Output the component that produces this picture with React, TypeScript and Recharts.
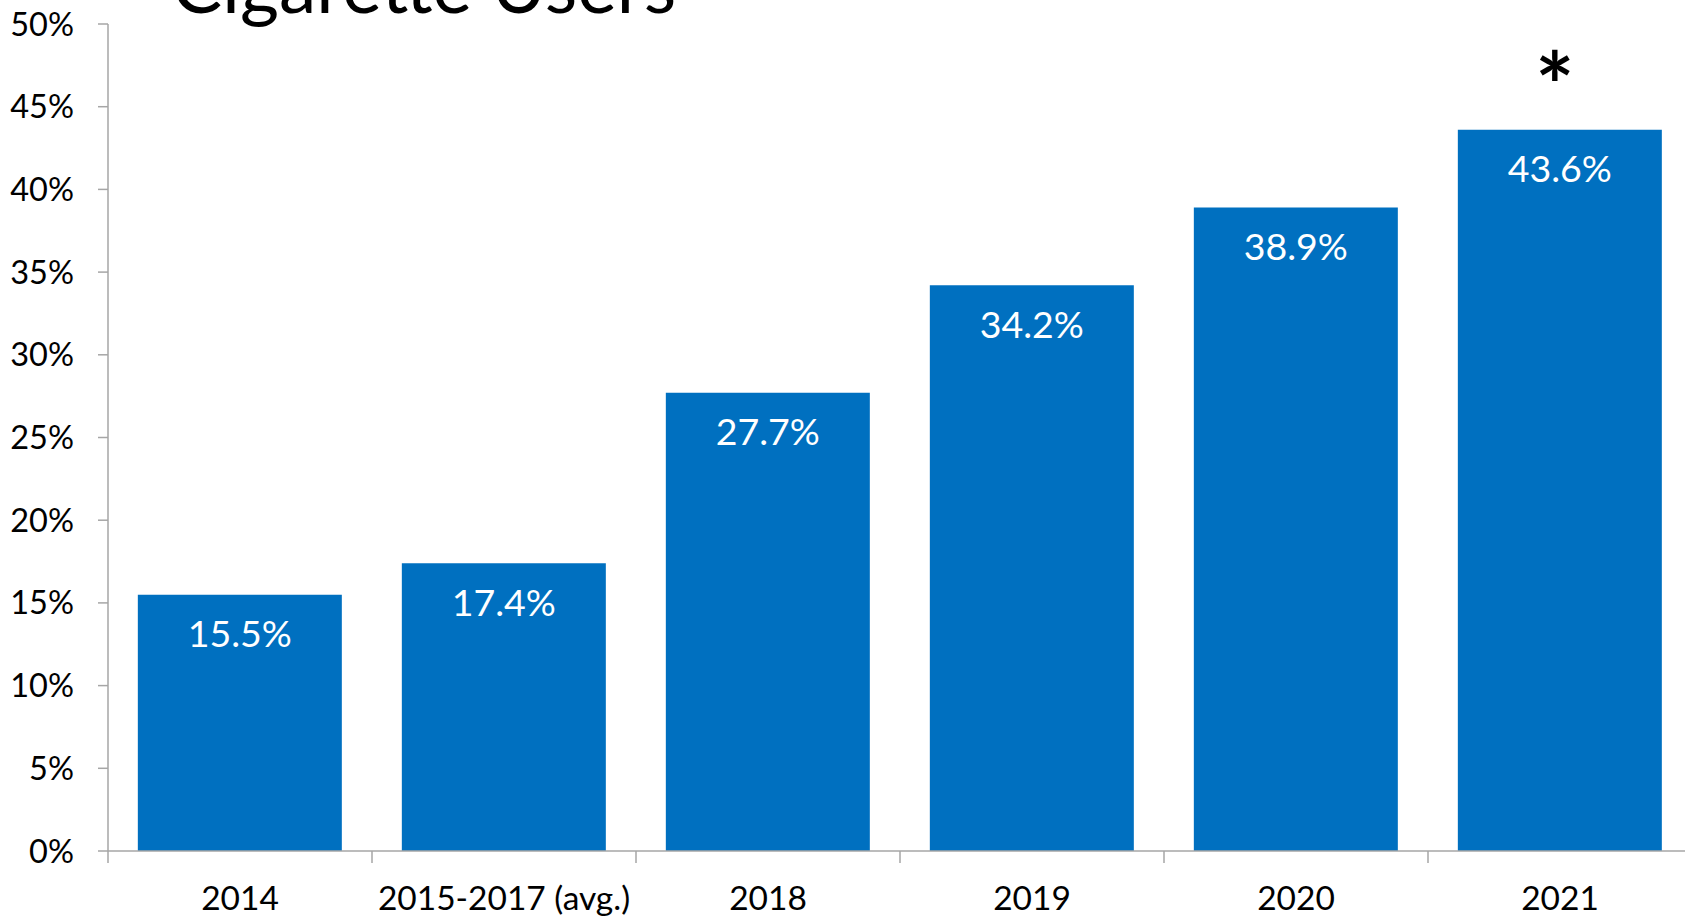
import { Bar, BarChart, LabelList, XAxis, YAxis } from "recharts";

const categories = ["2014", "2015-2017 (avg.)", "2018", "2019", "2020", "2021"];
const users = [15.5, 17.4, 27.7, 34.2, 38.9, 43.6];
const notes = ["", "", "", "", "", "*"];
const yTicks = [0, 5, 10, 15, 20, 25, 30, 35, 40, 45, 50];

const BLUE = "#0070C0";
const AXIS = "#A6A6A6";
const FONT = "Lato, 'Open Sans', sans-serif";

const CHART_W = 1692;
const Y_W = 108;
const HALF_BAND = (CHART_W - Y_W) / categories.length / 2;

const data = categories.map((name, i) => ({
  name,
  users: users[i],
  note: notes[i],
}));

// Excel-style: tick marks sit between categories, labels at the centre
function CategoryTick({ x, y, payload }: any) {
  return (
    <g>
      <line
        x1={x - HALF_BAND}
        x2={x - HALF_BAND}
        y1={y}
        y2={y + 12}
        stroke={AXIS}
        strokeWidth={1.5}
      />
      <text
        x={x}
        y={y + 35}
        dy="0.71em"
        textAnchor="middle"
        fill="#000"
        fontSize={33.5}
        fontFamily={FONT}
      >
        {payload.value}
      </text>
    </g>
  );
}

function Asterisk({ x, y, width, value }: any) {
  if (!value) return null;
  return (
    <text
      x={x + width / 2 - 5}
      y={y - 45}
      textAnchor="middle"
      dominantBaseline="central"
      fill="#000"
      fontSize={92}
      fontWeight="bold"
      fontFamily={FONT}
    >
      {value}
    </text>
  );
}

export default function App() {
  return (
    <div
      style={{
        position: "absolute",
        left: 0,
        top: 0,
        width: 1685,
        height: 917,
        overflow: "hidden",
        background: "#fff",
      }}
    >
      <BarChart
        width={CHART_W}
        height={917}
        data={data}
        margin={{ top: 24, right: 0, left: 0, bottom: 0 }}
        barCategoryGap="11.3%"
      >
        <XAxis
          dataKey="name"
          interval={0}
          tick={<CategoryTick />}
          tickLine={false}
          tickSize={0}
          tickMargin={0}
          height={66}
          stroke={AXIS}
          strokeWidth={1.5}
        />
        <YAxis
          domain={[0, 50]}
          ticks={yTicks}
          interval={0}
          width={Y_W}
          tickSize={10}
          tickMargin={24}
          stroke={AXIS}
          strokeWidth={1.5}
          tickFormatter={(v) => `${v}%`}
          tick={{ fill: "#000", fontSize: 32.5, fontFamily: FONT }}
        />
        <Bar dataKey="users" fill={BLUE} isAnimationActive={false}>
          <LabelList
            dataKey="users"
            position="insideTop"
            offset={26}
            fill="#fff"
            fontSize={37.5}
            fontFamily={FONT}
            formatter={(v: any) => `${v}%`}
          />
          <LabelList dataKey="note" content={<Asterisk />} />
        </Bar>
      </BarChart>
      <svg
        width={1685}
        height={60}
        style={{ position: "absolute", left: 0, top: 0, pointerEvents: "none" }}
      >
        <text x={172} y={13} fontSize={75} fontFamily={FONT} fill="#000">
          Cigarette Users
        </text>
      </svg>
    </div>
  );
}
